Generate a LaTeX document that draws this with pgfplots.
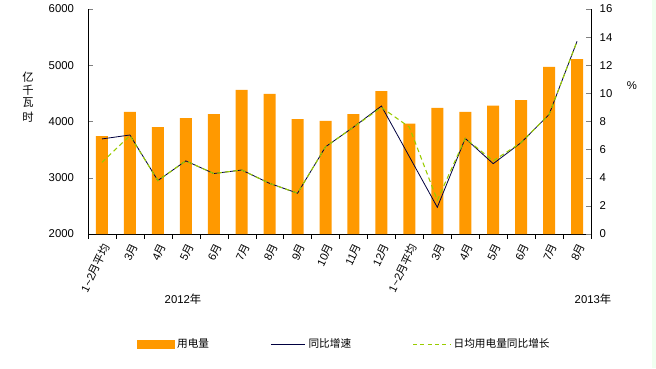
\documentclass[border=0pt]{standalone}
\usepackage{pgfplots}
\pgfplotsset{compat=1.18}
\usepackage{fontspec}
\setmainfont{Liberation Sans}
\newfontfamily\cjk{Noto Sans CJK SC}
\newcommand\yue{{\cjk 月}}
\definecolor{barorange}{HTML}{FF9900}
\definecolor{navyline}{HTML}{000040}
\definecolor{greenline}{HTML}{99CC00}
\pgfplotstableread{
x bar g1 g2
0 3740 6.76 5.1
1 4170 7.04 7.0
2 3900 3.8 3.8
3 4060 5.2 5.2
4 4130 4.3 4.3
5 4560 4.55 4.55
6 4490 3.6 3.6
7 4040 2.9 2.9
8 4010 6.2 6.2
9 4130 7.6 7.6
10 4540 9.1 9.0
11 3960 5.5 7.6
12 4240 1.9 2.4
13 4170 6.8 6.8
14 4280 5.0 5.2
15 4380 6.5 6.5
16 4970 8.5 8.5
17 5110 13.7 13.7
}\datatable
\begin{document}
\begin{tikzpicture}[x=1pt,y=1pt]
\path[use as bounding box] (0,0) rectangle (492,276);
\fill[white] (0,0) rectangle (492,276);
\fill[green!6] (489,0) rectangle (492,276);
\begin{axis}[
  at={(66pt,100.5pt)}, anchor=south west, scale only axis,
  width=377.25pt, height=168.75pt,
  xmin=-0.5, xmax=17.5, ymin=2000, ymax=6000,
  axis y line*=left, axis x line*=bottom,
  ytick={2000,3000,4000,5000,6000},
  ytick align=inside, xtick align=outside,
  major tick length=3.75pt, minor tick length=3.5pt,
  xtick={0,...,17},
  minor xtick={-0.5,0.5,...,17.5},
  major x tick style={draw=none},
  minor x tick style={draw=black},
  xticklabels={1\textasciitilde2\yue{\cjk 平均},3\yue,4\yue,5\yue,6\yue,7\yue,8\yue,9\yue,10\yue,11\yue,12\yue,1\textasciitilde2\yue{\cjk 平均},3\yue,4\yue,5\yue,6\yue,7\yue,8\yue},
  xticklabel style={rotate=64, anchor=east, font=\fontsize{8.3}{9}\selectfont, yshift=-5pt, xshift=-1pt, inner sep=1pt},
  yticklabel style={font=\fontsize{8.5}{10}\selectfont, xshift=-7pt},
  /pgf/number format/assume math mode=true,
  scaled y ticks=false,
  yticklabel={\pgfmathprintnumber[fixed,1000 sep={}]{\tick}},
  axis line style={black, line width=0.6pt},
]
\addplot[ybar, bar width=9pt, fill=barorange, draw=none] table[x=x,y=bar]{\datatable};
\end{axis}
\begin{axis}[
  at={(66pt,100.5pt)}, anchor=south west, scale only axis,
  width=377.25pt, height=168.75pt,
  xmin=-0.5, xmax=17.5, ymin=0, ymax=16,
  axis y line*=right, axis x line=none,
  ytick={0,2,...,16},
  ytick align=inside, major tick length=3.75pt,
  yticklabel style={font=\fontsize{8.5}{10}\selectfont, xshift=3pt},
  /pgf/number format/assume math mode=true,
  axis line style={black, line width=0.6pt},
  legend columns=3,
  legend style={at={(0.096,-0.49)}, anchor=west, draw=none, fill=none,
    font=\fontsize{8}{9}\selectfont, inner sep=0pt,
    /tikz/every even column/.append style={column sep=44pt}},
]
\addlegendimage{legend image code/.code={\fill[barorange] (0pt,-3pt) rectangle (28pt,3pt);}}
\addlegendentry{{\cjk 用电量}}
\addplot[navyline, line width=0.6pt, legend image code/.code={\draw[navyline, line width=0.6pt] (0pt,0pt) -- (26pt,0pt);}] table[x=x,y=g1]{\datatable};
\addlegendentry{{\cjk 同比增速}}
\addplot[greenline, line width=0.8pt, dash pattern=on 3.5pt off 2.5pt, legend image code/.code={\draw[greenline, line width=0.8pt, dash pattern=on 3pt off 2.5pt] (0pt,0pt) -- (28pt,0pt);}] table[x=x,y=g2]{\datatable};
\addlegendentry{{\cjk 日均用电量同比增长}}
\end{axis}
\node[font=\fontsize{8.5}{10}\selectfont] at (137.25,51.75) {2012{\cjk 年}};
\node[font=\fontsize{8.5}{10}\selectfont] at (444.75,51.75) {2013{\cjk 年}};
\node[font=\fontsize{8.5}{10}\selectfont, inner sep=0pt] at (21,218.25) {\cjk 亿};
\node[font=\fontsize{8.5}{10}\selectfont, inner sep=0pt] at (21,208.5) {\cjk 千};
\node[font=\fontsize{8.5}{10}\selectfont, inner sep=0pt] at (21,198.75) {\cjk 瓦};
\node[font=\fontsize{8.5}{10}\selectfont, inner sep=0pt] at (21,188.25) {\cjk 时};
\node[font=\fontsize{8.5}{10}\selectfont] at (474,211.5) {\%};
\end{tikzpicture}
\end{document}
